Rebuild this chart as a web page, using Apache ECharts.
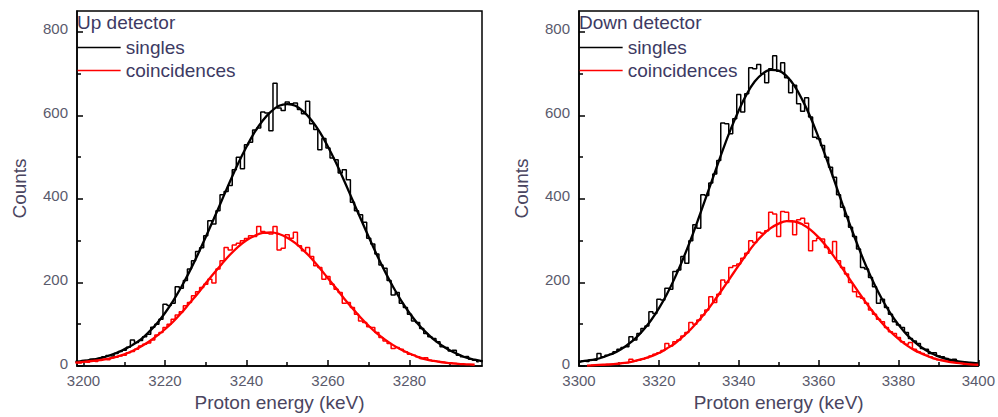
<!DOCTYPE html>
<html>
<head>
<meta charset="utf-8">
<script src="https://cdn.jsdelivr.net/npm/echarts@6/dist/echarts.min.js"></script>
<style>
html,body{margin:0;padding:0;background:#fff;}
#main{width:998px;height:417px;}
</style>
</head>
<body>
<div id="main"></div>
<script>
// ---------- DATA ----------
// Up detector: histograms (1 keV bins, first bin centre given) and fitted curves (2 keV steps)
const upHistStart = 3198;
const upSinglesHist = [
  11,10,13,12,16,14,18,22,25,24,
  30,35,38,45,62,56,61,70,76,93,
  100,112,148,145,150,190,186,205,232,252,
  274,283,312,348,340,372,410,418,432,470,
  500,472,530,536,565,570,608,606,563,677,
  618,612,632,628,630,614,604,634,580,566,
  518,545,522,498,494,462,470,446,392,372,
  362,344,306,292,268,242,234,205,170,176,
  150,140,124,108,104,90,78,70,66,58,
  46,44,36,38,26,22,23,16,14,10
];
const upCoincHist = [
  8,7,10,9,12,11,14,16,15,19,
  21,24,26,32,35,40,48,52,55,62,
  74,80,92,100,112,122,130,144,152,168,
  178,188,196,208,199,232,252,284,278,290,
  294,300,305,312,310,334,322,318,316,334,
  278,282,314,306,320,288,276,284,262,240,
  236,208,214,196,184,176,150,152,140,124,
  108,104,94,92,80,68,60,54,42,44,
  40,34,28,26,22,18,20,14,12,11,
  9,8,8,6,5
];
const upSinglesFitStart = 3198;
const upSinglesFit = [
  10,12,15,19,24,31,40,50,63,81,
  102,127,156,189,226,266,309,353,398,443,
  486,525,560,588,609,623,627,623,609,588,
  560,525,486,443,398,353,309,266,226,189,
  156,127,102,81,63,49,37,28,20,15,11
];
const upCoincFitStart = 3198;
const upCoincFit = [
  8,10,12,14,17,22,28,36,46,58,
  72,88,106,127,150,173,198,222,245,267,
  286,301,312,319,320,316,307,294,277,257,
  234,210,186,161,138,116,96,78,63,50,
  39,30,22,16,12,9,7,5,4,3
];

// Down detector
const downSinglesHistStart = 3300;
const downSinglesHist = [
  10,12,11,15,14,30,22,26,28,34,
  40,44,46,70,62,78,90,96,130,126,
  160,158,186,184,226,230,262,246,300,338,
  330,410,408,438,460,492,582,580,556,592,
  650,608,652,714,712,722,700,678,712,743,
  706,726,690,654,672,628,610,642,596,548,
  544,528,500,476,452,410,380,358,332,310,
  280,236,232,212,190,150,160,140,124,106,
  98,92,80,66,60,54,42,40,30,32,
  24,22,18,14,16,10,9,8,6,5
];
const downCoincHistStart = 3303;
const downCoincHist = [
  2,2,3,3,4,4,5,6,7,8,
  16,12,14,17,20,24,28,32,37,54,
  48,58,62,72,80,104,100,110,122,134,
  166,152,172,206,200,236,240,244,258,270,
  300,296,320,318,324,368,364,310,370,368,
  348,314,350,354,342,276,300,306,304,284,
  270,298,252,236,220,200,178,166,162,150,
  134,124,112,106,92,82,78,68,58,52,
  56,40,34,30,26,22,18,15,14,12,
  10,10,9,8,7,6,5
];
const downSinglesFitStart = 3300;
const downSinglesFit = [
  10,13,16,21,28,37,50,65,85,109,
  138,172,211,255,303,355,409,463,517,567,
  612,651,681,700,709,707,694,670,636,595,
  547,496,442,387,334,284,237,195,158,126,
  99,76,58,43,32,23,17,13,10,8,6
];
const downCoincFitStart = 3302;
const downCoincFit = [
  1,2,3,4,6,8,12,17,23,31,
  42,54,70,88,109,132,158,185,213,241,
  268,293,314,330,341,347,346,339,326,308,
  286,260,233,205,177,150,125,102,82,65,
  50,38,29,21,15,11,8,6,4,3
];

// Axis ticks
const upXMajor = [3200,3220,3240,3260,3280];
const upXMinor = [3210,3230,3250,3270,3290];
const downXMajor = [3300,3320,3340,3360,3380,3400];
const downXMinor = [3310,3330,3350,3370,3390];
const yMajor = [0,200,400,600,800];
const yMinor = [100,300,500,700];
const panelTitles = ['Up detector','Down detector'];
const legendNames = ['singles','coincidences'];

// ---------- CHART ----------
const FONT = 'Liberation Sans, Arial, sans-serif';
const tickColor = '#5a5a6c';
const textColor = '#3d3a63';
const nameColor = '#4a4560';
const plain = v => String(v);

const toPts = (arr, start, step) => arr.map((v, i) => [start + i * step, v]);

const grids = [
  {left: 77, top: 11, width: 405, height: 358},
  {left: 579, top: 11, width: 403, height: 358}
].map(g => Object.assign(g, {show: true, borderColor: '#000', borderWidth: 1.5, containLabel: false}));

function xMain(gi, min, max, major) {
  return {
    type: 'value', gridIndex: gi, min: min, max: max, position: 'bottom',
    name: 'Proton energy (keV)', nameLocation: 'middle', nameGap: 27,
    nameTextStyle: {fontSize: 19, color: nameColor, fontFamily: FONT},
    axisLine: {show: true, onZero: false, lineStyle: {color: '#000', width: 1.5}},
    axisTick: {show: true, inside: true, length: 6, customValues: major, lineStyle: {color: '#000', width: 1.5}},
    axisLabel: {show: true, customValues: major, formatter: plain, margin: 7, fontSize: 15, lineHeight: 15,
                color: tickColor, fontFamily: FONT},
    splitLine: {show: false}
  };
}
function xMinor(gi, min, max, minor) {
  return {
    type: 'value', gridIndex: gi, min: min, max: max, position: 'bottom', offset: 0,
    axisLine: {show: false},
    axisTick: {show: true, inside: true, length: 4, customValues: minor, lineStyle: {color: '#000', width: 1.5}},
    axisLabel: {show: false},
    splitLine: {show: false}
  };
}
function yMain(gi) {
  return {
    type: 'value', gridIndex: gi, min: 0, max: 850, position: 'left',
    name: 'Counts', nameLocation: 'middle', nameGap: 48, nameRotate: 90,
    nameTextStyle: {fontSize: 19, color: nameColor, fontFamily: FONT},
    axisLine: {show: true, onZero: false, lineStyle: {color: '#000', width: 1.5}},
    axisTick: {show: true, inside: true, length: 6, customValues: yMajor, lineStyle: {color: '#000', width: 1.5}},
    axisLabel: {show: true, customValues: yMajor, formatter: plain, margin: 9, fontSize: 15, lineHeight: 6,
                verticalAlign: 'bottom', color: tickColor, fontFamily: FONT},
    splitLine: {show: false}
  };
}
function yMinorAxis(gi) {
  return {
    type: 'value', gridIndex: gi, min: 0, max: 850, position: 'left', offset: 0,
    axisLine: {show: false},
    axisTick: {show: true, inside: true, length: 4, customValues: yMinor, lineStyle: {color: '#000', width: 1.5}},
    axisLabel: {show: false},
    splitLine: {show: false}
  };
}

function hist(name, data, xi, yi, color) {
  return {
    name: name, type: 'line', step: 'middle', data: data, xAxisIndex: xi, yAxisIndex: yi,
    symbol: 'none', showSymbol: false, silent: true,
    lineStyle: {color: color, width: 1.5}, itemStyle: {color: color}, z: 2
  };
}
function fit(name, data, xi, yi, color) {
  return {
    name: name, type: 'line', smooth: 0.4, data: data, xAxisIndex: xi, yAxisIndex: yi,
    symbol: 'none', showSymbol: false, silent: true,
    lineStyle: {color: color, width: 2.3}, itemStyle: {color: color}, z: 3
  };
}

const option = {
  animation: false,
  backgroundColor: '#fff',
  textStyle: {fontFamily: FONT},
  title: panelTitles.map((t, i) => ({
    text: t, left: i === 0 ? 77 : 579, top: 13, padding: 0,
    textStyle: {fontSize: 19, fontWeight: 'normal', color: textColor, fontFamily: FONT}
  })),
  legend: [77, 579].map(l => ({
    left: l, top: 38, orient: 'vertical', padding: 0,
    itemWidth: 43, itemHeight: 14, itemGap: 4,
    data: legendNames, selectedMode: false,
    lineStyle: {width: 1.3},
    itemStyle: {opacity: 0},
    textStyle: {fontSize: 19, color: textColor, fontFamily: FONT}
  })),
  grid: grids,
  xAxis: [
    xMain(0, 3198.4, 3297.8, upXMajor), xMinor(0, 3198.4, 3297.8, upXMinor),
    xMain(1, 3300, 3400, downXMajor), xMinor(1, 3300, 3400, downXMinor)
  ],
  yAxis: [yMain(0), yMinorAxis(0), yMain(1), yMinorAxis(1)],
  series: [
    hist('singles histogram up', toPts(upSinglesHist, upHistStart, 1), 0, 0, '#000'),
    hist('coincidences histogram up', toPts(upCoincHist, upHistStart, 1), 0, 0, '#ff0000'),
    fit('singles', toPts(upSinglesFit, upSinglesFitStart, 2), 0, 0, '#000'),
    fit('coincidences', toPts(upCoincFit, upCoincFitStart, 2), 0, 0, '#ff0000'),
    hist('singles histogram down', toPts(downSinglesHist, downSinglesHistStart, 1), 2, 2, '#000'),
    hist('coincidences histogram down', toPts(downCoincHist, downCoincHistStart, 1), 2, 2, '#ff0000'),
    fit('singles', toPts(downSinglesFit, downSinglesFitStart, 2), 2, 2, '#000'),
    fit('coincidences', toPts(downCoincFit, downCoincFitStart, 2), 2, 2, '#ff0000')
  ]
};

const chart = echarts.init(document.getElementById('main'), null, {renderer: 'svg', width: 998, height: 417});
chart.setOption(option);
</script>
</body>
</html>
